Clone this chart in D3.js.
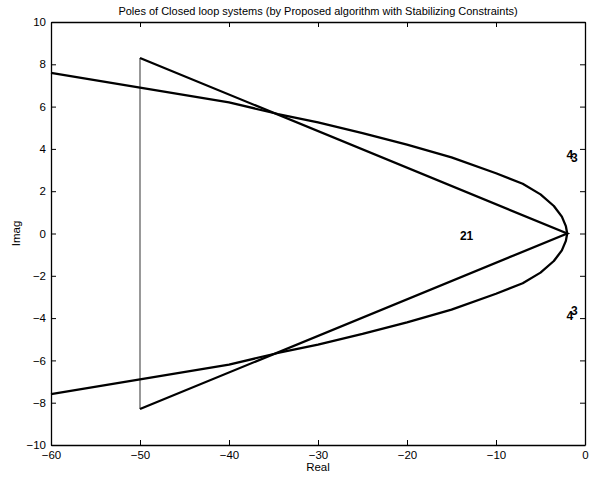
<!DOCTYPE html>
<html>
<head>
<meta charset="utf-8">
<script src="https://cdn.jsdelivr.net/npm/d3@7"></script>
<style>
  body { margin: 0; background: #fff; }
  text { font-family: "Liberation Sans", Arial, sans-serif; }
</style>
</head>
<body>
<div id="chart"></div>
<script>
// pole locus, upper branch (real, imag)
var curveReal = [-60, -50, -40, -34.5, -30, -25, -20, -15, -10, -7, -5, -3.5, -2.6, -2.15, -2];
var curveImag = [7.6, 6.9, 6.2, 5.65, 5.25, 4.75, 4.2, 3.6, 2.85, 2.35, 1.85, 1.3, 0.8, 0.35, 0];

// straight triangle branch
var triReal = [-50, -2, -50];
var triImag = [8.3, 0, -8.3];

// thin vertical segment
var vertReal = [-50, -50];
var vertImag = [8.3, -8.3];

// pole number labels
var labelText = ['21', '4', '3', '4', '3'];
var labelReal = [-13.3, -1.7, -1.2, -1.7, -1.2];
var labelImag = [-0.1, 3.7, 3.6, -3.9, -3.65];

var xTicks = [-60, -50, -40, -30, -20, -10, 0];
var yTicks = [-10, -8, -6, -4, -2, 0, 2, 4, 6, 8, 10];

var width = 593, height = 480;
var margin = {top: 22, right: 8, bottom: 35, left: 51};
var w = width - margin.left - margin.right;
var h = height - margin.top - margin.bottom;

var svg = d3.select("#chart").append("svg")
    .attr("width", width)
    .attr("height", height);

var g = svg.append("g")
    .attr("transform", "translate(" + margin.left + "," + margin.top + ")");

var x = d3.scaleLinear().domain([-60, 0]).range([0, w]);
var y = d3.scaleLinear().domain([-10, 10]).range([h, 0]);

// axes, ticks pointing inward like matlab
g.append("g")
    .attr("class", "axis")
    .attr("transform", "translate(0," + h + ")")
    .call(d3.axisBottom(x).tickValues(xTicks).tickSizeInner(-5).tickSizeOuter(0).tickPadding(6).tickFormat(d3.format("d")));
g.append("g")
    .attr("class", "axis")
    .call(d3.axisTop(x).tickValues(xTicks).tickSizeInner(-5).tickSizeOuter(0).tickFormat(""));
g.append("g")
    .attr("class", "axis")
    .call(d3.axisLeft(y).tickValues(yTicks).tickSizeInner(-5).tickSizeOuter(0).tickPadding(5).tickFormat(d3.format("d")));
g.append("g")
    .attr("class", "axis")
    .attr("transform", "translate(" + w + ",0)")
    .call(d3.axisRight(y).tickValues(yTicks).tickSizeInner(-5).tickSizeOuter(0).tickFormat(""));

g.selectAll(".axis path").attr("stroke", "#000").attr("stroke-width", 1.3);
g.selectAll(".axis line").attr("stroke", "#000").attr("stroke-width", 1);
g.selectAll(".axis text").attr("fill", "#000").style("font-size", "11.5px");

// thin vertical line
var line = d3.line()
    .x(function(d) { return x(d[0]); })
    .y(function(d) { return y(d[1]); });

g.append("path")
    .datum(d3.zip(vertReal, vertImag))
    .attr("fill", "none")
    .attr("stroke", "#444")
    .attr("stroke-width", 1.1)
    .attr("d", line);

// locus curve, upper then mirrored lower branch
var upper = d3.zip(curveReal, curveImag);
var lower = upper.map(function(d) { return [d[0], -d[1]]; });

[upper, lower].forEach(function(branch) {
    g.append("path")
        .datum(branch)
        .attr("fill", "none")
        .attr("stroke", "#000")
        .attr("stroke-width", 2.3)
        .attr("stroke-linejoin", "round")
        .attr("d", line);
});

g.append("path")
    .datum(d3.zip(triReal, triImag))
    .attr("fill", "none")
    .attr("stroke", "#000")
    .attr("stroke-width", 2.3)
    .attr("stroke-linejoin", "miter")
    .attr("d", line);

// pole labels (they overlap in the original too)
g.selectAll(".pole")
    .data(d3.zip(labelText, labelReal, labelImag))
    .enter()
    .append("text")
    .attr("class", "pole")
    .attr("x", function(d) { return x(d[1]); })
    .attr("y", function(d) { return y(d[2]); })
    .attr("dy", "0.35em")
    .attr("text-anchor", "middle")
    .style("font-size", "12px")
    .style("font-weight", "bold")
    .text(function(d) { return d[0]; });

// title and labels
svg.append("text")
    .attr("x", margin.left + w / 2)
    .attr("y", 15)
    .attr("text-anchor", "middle")
    .style("font-size", "11px")
    .text("Poles of Closed loop systems (by Proposed algorithm with Stabilizing Constraints)");

svg.append("text")
    .attr("x", margin.left + w / 2)
    .attr("y", 471)
    .attr("text-anchor", "middle")
    .style("font-size", "11.5px")
    .text("Real");

svg.append("text")
    .attr("transform", "translate(20," + (margin.top + h / 2) + ") rotate(-90)")
    .attr("text-anchor", "middle")
    .style("font-size", "11.5px")
    .text("Imag");
</script>
</body>
</html>
